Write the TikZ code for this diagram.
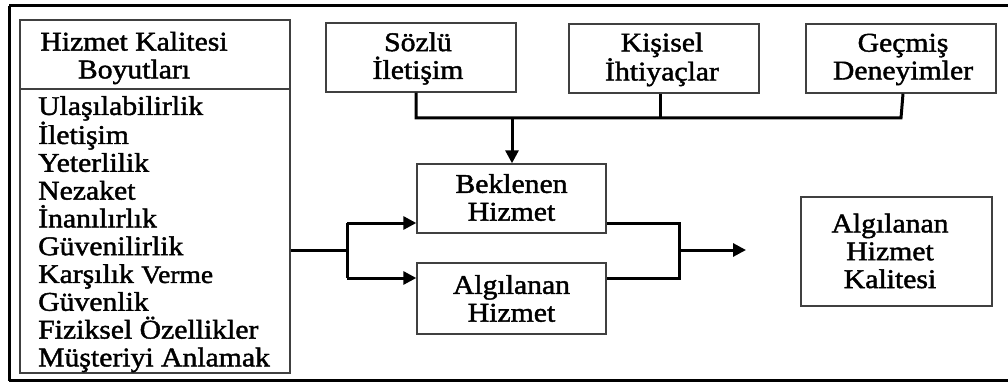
\documentclass[tikz,border=0pt]{standalone}
\usepackage{fontspec}
\setmainfont{Liberation Serif}[FakeStretch=1.1,FakeBold=1.6]
\usetikzlibrary{arrows.meta}
\tikzset{
  box/.style={draw=black!75, line width=1.4pt, rectangle, inner sep=0pt},
  txt/.style={inner sep=0pt, align=center, font=\fontsize{27}{27.8}\selectfont},
  conn/.style={draw=black, line width=3pt},
  arr/.style={conn, -{Triangle[length=13pt,width=13pt]}},
}
\begin{document}
\begin{tikzpicture}[x=1pt,y=-1pt]
\useasboundingbox (0,0) rectangle (1008,382);
% outer frame
\draw[line width=3pt] (9,6) -- (1012,6);
\draw[line width=3pt] (9,380.5) -- (1012,380.5);
\draw[line width=3pt] (9,6) -- (9,380.5);
% left box
\node[box, minimum width=270pt, minimum height=353pt] (dim) at (155,196.5) {};
\coordinate (dl) at (20,89);
\coordinate (dr) at (290,89);
\draw[black!75, line width=1.4pt] (dl) -- (dr);
\node[txt] (dimh) at (134,58) {Hizmet Kalitesi\\Boyutları};
\node[txt, align=left, anchor=north west] (diml) at (38,96) {Ulaşılabilirlik\\İletişim\\Yeterlilik\\Nezaket\\İnanılırlık\\Güvenilirlik\\Karşılık {\fontsize{25}{27.8}\selectfont Verme}\\Güvenlik\\Fiziksel Özellikler\\Müşteriyi Anlamak};
% top boxes
\node[box, minimum width=190pt, minimum height=69pt] (soz) at (421,57.5) {};
\node[txt] at (418,58.5) {Sözlü\\İletişim};
\node[box, minimum width=190pt, minimum height=69pt] (kis) at (664,58.5) {};
\node[txt] at (662,59.5) {Kişisel\\İhtiyaçlar};
\node[box, minimum width=190pt, minimum height=69pt] (gec) at (901,58.5) {};
\node[txt] at (903,59.5) {Geçmiş\\Deneyimler};
% middle boxes
\node[box, minimum width=189pt, minimum height=69pt] (bek) at (511.5,198.5) {};
\node[txt] at (511.5,197.5) {Beklenen\\Hizmet};
\node[box, minimum width=189pt, minimum height=71pt] (alg) at (511.5,298.5) {};
\node[txt] at (511.5,298.5) {Algılanan\\Hizmet};
% result box
\node[box, minimum width=191pt, minimum height=109pt] (res) at (896.5,251.5) {};
\node[txt] at (890,251) {Algılanan\\Hizmet\\Kalitesi};
% bus from top boxes
\coordinate (bus) at (512,118);
\draw[conn] (soz.south -| 416,0) |- (gec.south |- bus) -- (gec.south -| 903,0);
\draw[conn] (kis.south -| 660,0) -- (660,118);
\draw[arr] (bus) -- (bek.north -| bus);
% left split
\coordinate (ls) at (347,250);
\draw[conn] (dim.east |- ls) -- (ls);
\draw[conn] (347,223) -- (347,278);
\draw[arr] (347,223) -- (bek.west |- 0,223);
\draw[arr] (347,278) -- (alg.west |- 0,278);
% right join
\coordinate (rj) at (679,250);
\draw[conn] (bek.east |- 0,223) -| (679,278) -- (alg.east |- 0,278);
\draw[arr] (rj) -- (746,250);
\end{tikzpicture}
\end{document}
